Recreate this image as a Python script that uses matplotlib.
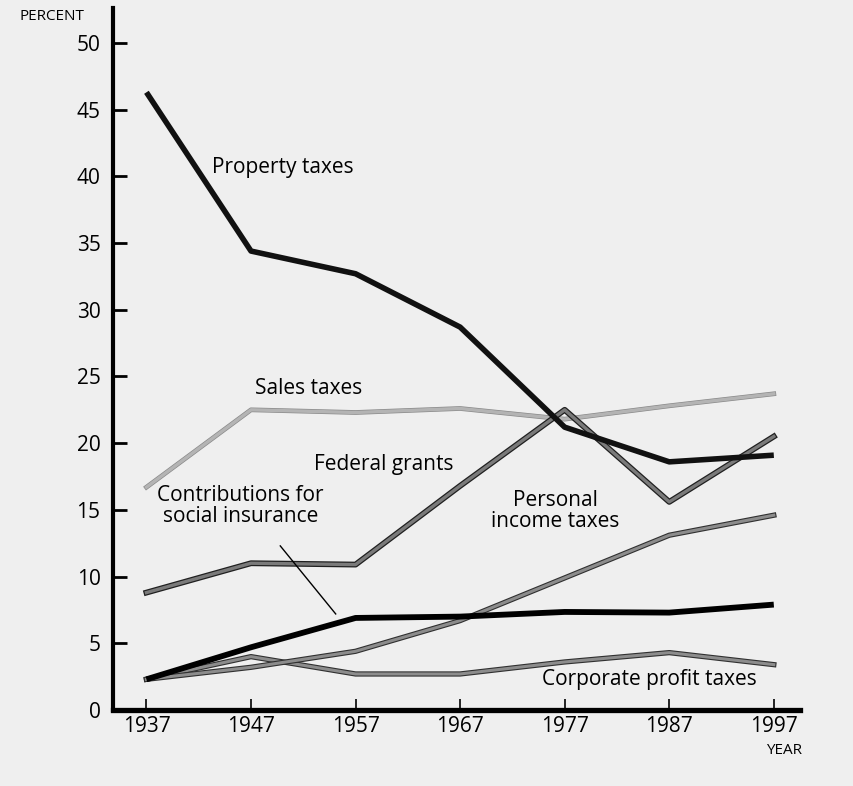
import matplotlib as mplib
mplib.use('Agg')
import matplotlib.pyplot as plt
import matplotlib.patheffects as pe

# share of state and local revenue, percent
years = [1937, 1947, 1957, 1967, 1977, 1987, 1997]
property_taxes = [46.3, 34.4, 32.7, 28.7, 21.2, 18.6, 19.1]
sales_taxes = [16.7, 22.5, 22.3, 22.6, 21.8, 22.8, 23.7]
federal_grants = [8.8, 11.0, 10.9, 16.8, 22.5, 15.6, 20.5]
personal_income = [2.3, 3.2, 4.4, 6.7, 9.9, 13.1, 14.6]
social_insurance = [2.3, 4.7, 6.9, 7.0, 7.35, 7.3, 7.9]
corporate_profit = [2.3, 4.0, 2.7, 2.7, 3.6, 4.3, 3.4]

yticks = [0, 5, 10, 15, 20, 25, 30, 35, 40, 45, 50]

def outlined(width, edge='black'):
    return [pe.Stroke(linewidth=width, foreground=edge), pe.Normal()]

def make_plot():
    mplib.rc('font', family=['Open Sans', 'DejaVu Sans'])
    bg = '#efefef'
    fig = plt.figure(figsize=(8.54, 7.86), dpi=100, facecolor=bg)
    ax = fig.add_axes([0.1323, 0.0967, 0.8044, 0.8928])
    ax.set_facecolor(bg)

    ax.plot(years, sales_taxes, color='#b4b4b4', linewidth=2.4,
            path_effects=outlined(3.4, '#8a8a8a'))
    ax.plot(years, corporate_profit, color='#8c8c8c', linewidth=2.2,
            path_effects=outlined(3.8, '#303030'))
    ax.plot(years, personal_income, color='#8c8c8c', linewidth=2.2,
            path_effects=outlined(3.8, '#303030'))
    ax.plot(years, federal_grants, color='#7a7a7a', linewidth=2.4,
            path_effects=outlined(4.2, '#202020'))
    ax.plot(years, social_insurance, color='black', linewidth=4.2, solid_capstyle='butt')
    ax.plot(years, property_taxes, color='#111111', linewidth=4.0, solid_capstyle='butt')

    # leader for social insurance label
    ax.plot([1949.8, 1955.1], [12.3, 7.2], color='black', linewidth=1.0)

    fs = 15
    ax.text(1950.0, 40.7, 'Property taxes', fontsize=fs, ha='center', va='center')
    ax.text(1952.5, 24.1, 'Sales taxes', fontsize=fs, ha='center', va='center')
    ax.text(1959.7, 18.4, 'Federal grants', fontsize=fs, ha='center', va='center')
    ax.text(1946.0, 15.3, 'Contributions for\nsocial insurance', fontsize=fs,
            ha='center', va='center', linespacing=1.0)
    ax.text(1976.1, 14.9, 'Personal\nincome taxes', fontsize=fs,
            ha='center', va='center', linespacing=1.0)
    ax.text(1985.1, 2.3, 'Corporate profit taxes', fontsize=fs, ha='center', va='center')

    ax.set_xlim(1933.8, 1999.5)
    ax.set_ylim(0, 52.6)
    ax.set_xticks(years)
    ax.set_xticklabels([str(y) for y in years])
    ax.set_yticks(yticks)
    ax.set_yticklabels([str(y) for y in yticks])
    ax.tick_params(axis='both', direction='in', labelsize=15, color='black')
    ax.tick_params(axis='y', length=10, width=2, pad=9)
    ax.tick_params(axis='x', length=8, width=1.2, pad=4)

    for side in ['top', 'right']:
        ax.spines[side].set_visible(False)
    ax.spines['left'].set_linewidth(3)
    ax.spines['bottom'].set_linewidth(3.8)

    fig.text(52 / 854.0, 1 - 17 / 786.0, 'PERCENT', fontsize=11, ha='center', va='center')
    fig.text(784 / 854.0, 1 - 750 / 786.0, 'YEAR', fontsize=11, ha='center', va='center')

    fig.savefig('out.png', dpi=100, facecolor=bg)
    plt.close('all')

make_plot()
